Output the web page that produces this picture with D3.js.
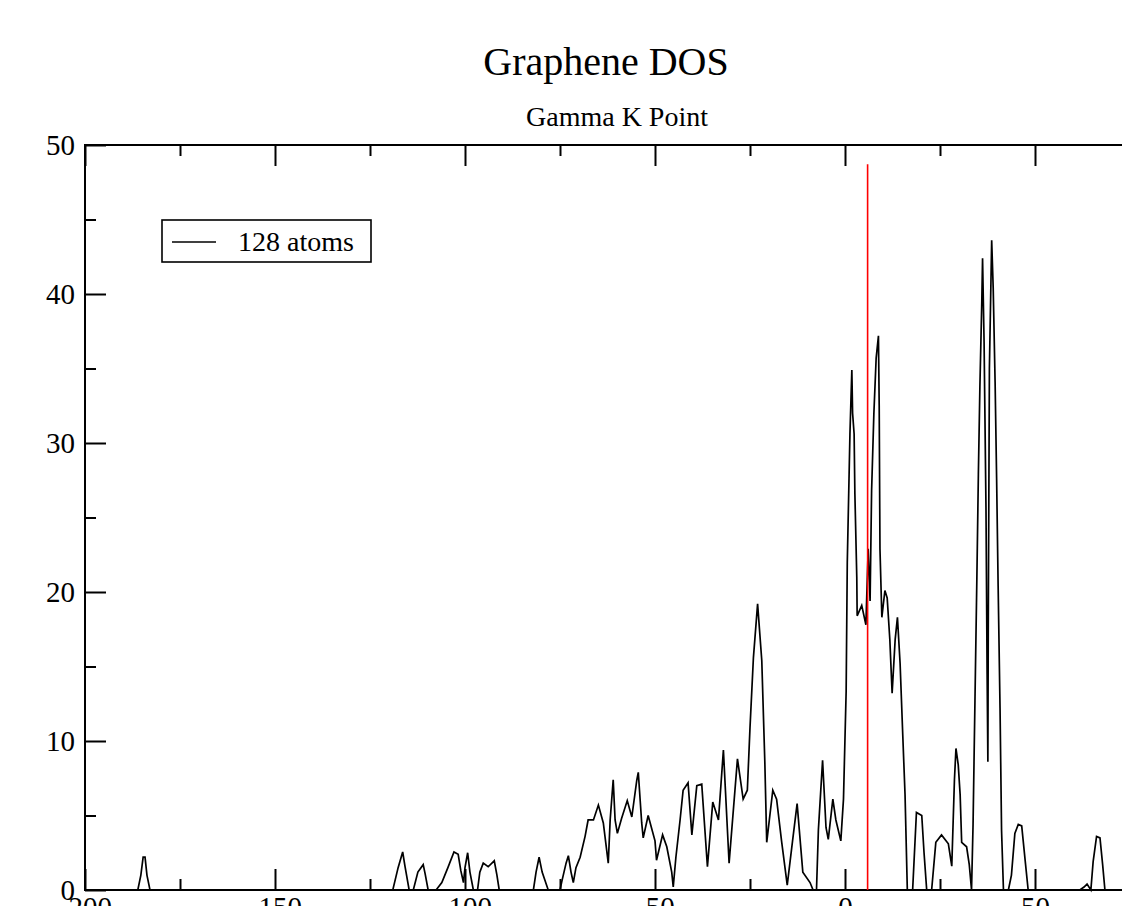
<!DOCTYPE html>
<html>
<head>
<meta charset="utf-8">
<script src="https://cdn.jsdelivr.net/npm/d3@7"></script>
<style>
  body { margin: 0; background: #fff; }
  svg { display: block; }
  text { font-family: "Liberation Serif", "Times New Roman", serif; fill: #000; }
</style>
</head>
<body>
<div id="chart"></div>
<script>
// chart text
var title = 'Graphene DOS';
var subtitle = 'Gamma K Point';
var seriesName = '128 atoms';

// tick values
var xMajorTicks = [-200, -150, -100, -50, 0, 50];
var xMinorTicks = [-175, -125, -75, -25, 25, 75];
var yMajorTicks = [0, 10, 20, 30, 40, 50];
var yMinorTicks = [5, 15, 25, 35, 45];

// fermi level marker
var fermiEnergy = 5.95;
var fermiTop = 48.7;

// DOS curve (energy, states)
var energy = [-200, -186.1, -185.3, -184.7, -184.2, -183.7, -182.9,
  -119.0, -117.6, -116.4, -115.8, -114.7, -113.6, -112.4, -111.0, -110.5, -109.7,
  -107.6, -106.1, -104.5, -102.9, -101.8, -101.1, -100.4, -100.0, -99.3, -98.7, -97.8,
  -96.7, -96.1, -95.2, -93.9, -92.3, -91.6, -91.0,
  -82.0, -81.3, -80.5, -79.7, -78.1,
  -75.0, -74.5, -73.4, -72.8, -72.1, -71.5, -70.8, -69.7, -68.4, -67.6, -66.2, -64.9,
  -63.6, -62.3, -61.8, -61.0, -60.5, -59.9, -58.8, -57.3, -56.1, -54.8, -54.4, -53.5,
  -53.1, -51.8, -50.0, -49.6, -48.0, -46.9, -45.6, -45.2, -44.5, -43.4, -42.6, -41.3,
  -40.3, -39.0, -37.7, -36.2, -34.8, -33.3, -32.0, -30.5, -28.3, -26.8, -25.7, -25.0,
  -24.1, -23.0, -21.9, -21.1, -20.6, -19.0, -18.0, -16.7, -15.2, -13.8, -12.6, -11.1,
  -9.2, -8.4, -7.5, -7.0, -5.9, -5.0, -4.4, -3.2, -2.4, -1.1, -0.4, 0.3, 0.6, 1.3,
  1.8, 2.0, 2.4, 2.6, 3.1, 3.2, 4.4, 5.5, 6.1, 6.6, 7.0, 7.6, 8.2, 8.8, 9.0, 9.2, 9.7,
  10.5, 11.1, 11.8, 12.4, 13.2, 13.8, 14.5, 15.2, 15.8, 16.4, 17.8, 18.8, 20.2, 20.8,
  21.5, 22.8, 23.9, 25.4, 27.2, 28.1, 28.8, 29.2, 29.8, 30.3, 30.7, 32.0, 32.7, 33.3,
  33.7, 34.2, 34.7, 35.1, 35.5, 36.0, 36.2, 36.6, 37.1, 37.4, 37.6, 37.7, 38.0, 38.6,
  39.0, 39.5, 39.9, 40.3, 40.8, 41.2, 41.7, 43.0, 43.8, 44.7, 45.6, 46.5, 47.4, 48.2,
  61.8, 62.9, 63.7, 64.7, 65.3, 66.2, 67.1, 67.8, 68.4, 73.7];

var dos = [0, 0, 1.0, 2.2, 2.2, 1.0, 0,
  0, 1.5, 2.55, 1.6, 0, 0, 1.2, 1.7, 1.1, 0,
  0, 0.5, 1.5, 2.55, 2.4, 1.3, 0.5, 1.5, 2.5, 1.2, 0,
  0, 1.2, 1.8, 1.56, 1.96, 1.0, 0,
  0, 1.2, 2.2, 1.2, 0,
  0, 0.6, 1.8, 2.3, 1.2, 0.5, 1.5, 2.2, 3.6, 4.7, 4.7, 5.7,
  4.5, 1.8, 4.7, 7.4, 4.7, 3.8, 4.8, 6.0, 4.9, 7.35, 7.9, 4.5,
  3.5, 5.0, 3.3, 2.0, 3.7, 2.9, 1.2, 0.2, 2.2, 4.7, 6.7, 7.2,
  3.7, 7.0, 7.1, 1.56, 5.9, 4.7, 9.4, 1.8, 8.8, 6.1, 6.7, 10.9,
  15.6, 19.2, 15.4, 8.6, 3.2, 6.7, 6.1, 3.3, 0.33, 3.3, 5.8, 1.2,
  0.5, 0, 0, 4.05, 8.7, 4.2, 3.4, 6.1, 4.7, 3.3, 6.1, 13.3, 22.0, 30.6,
  34.9, 32.0, 30.6, 26.6, 21.0, 18.4, 19.1, 17.8, 22.9, 19.4, 26.8, 32.0, 35.7, 37.2, 32.5, 22.9, 18.3,
  20.1, 19.6, 16.8, 13.2, 16.8, 18.3, 15.2, 10.4, 6.4, 0, 0, 5.2, 5.0, 2.5,
  0, 0, 3.2, 3.7, 3.1, 1.6, 7.4, 9.5, 8.4, 6.4, 3.2, 2.9, 1.7, 0,
  4.4, 12.7, 20.9, 27.9, 33.8, 39.5, 42.4, 36.8, 25.7, 14.5, 8.6, 17.5, 35.0, 43.6,
  40.4, 34.1, 27.6, 20.4, 12.2, 4.0, 0, 0, 1.0, 3.8, 4.4, 4.3, 2.0, 0,
  0, 0.2, 0.4, 0, 1.9, 3.6, 3.5, 1.7, 0, 0];

var svgWidth = 1122;
var svgHeight = 906;

// plot frame runs past the right edge of the picture
var margin = { top: 145, left: 85, bottom: 16 };
var plotRight = 1130;
var plotBottom = 890;

var svg = d3.select('#chart')
  .append('svg')
  .attr('width', svgWidth)
  .attr('height', svgHeight);

var xScale = d3.scaleLinear()
  .domain([-200, 75])
  .range([margin.left, plotRight]);

var yScale = d3.scaleLinear()
  .domain([0, 50])
  .range([plotBottom, margin.top]);

var plain = d => String(d);

// minor ticks first, all pointing inwards
svg.append('g')
  .attr('transform', `translate(0, ${plotBottom})`)
  .call(d3.axisBottom(xScale).tickValues(xMinorTicks).tickSize(-11).tickFormat(''));
svg.append('g')
  .attr('transform', `translate(0, ${margin.top})`)
  .call(d3.axisTop(xScale).tickValues(xMinorTicks).tickSize(-11).tickFormat(''));
svg.append('g')
  .attr('transform', `translate(${margin.left}, 0)`)
  .call(d3.axisLeft(yScale).tickValues(yMinorTicks).tickSize(-11).tickFormat(''));

// major ticks with labels
var xAxis = svg.append('g')
  .attr('transform', `translate(0, ${plotBottom})`)
  .call(d3.axisBottom(xScale).tickValues(xMajorTicks).tickSize(-21).tickPadding(6).tickFormat(plain));
svg.append('g')
  .attr('transform', `translate(0, ${margin.top})`)
  .call(d3.axisTop(xScale).tickValues(xMajorTicks).tickSize(-21).tickFormat(''));
var yAxis = svg.append('g')
  .attr('transform', `translate(${margin.left}, 0)`)
  .call(d3.axisLeft(yScale).tickValues(yMajorTicks).tickSize(-21).tickPadding(10).tickFormat(plain));

svg.selectAll('.domain').remove();
svg.selectAll('.tick line').attr('stroke', '#000').attr('stroke-width', 2);
svg.selectAll('.tick text')
  .style('font-family', '"Liberation Serif", serif')
  .attr('font-size', '29px')
  .attr('fill', '#000');

// frame
svg.append('rect')
  .attr('x', margin.left)
  .attr('y', margin.top)
  .attr('width', plotRight - margin.left)
  .attr('height', plotBottom - margin.top)
  .attr('fill', 'none')
  .attr('stroke', '#000')
  .attr('stroke-width', 2);

// dos curve
var points = energy.map((e, i) => [e, dos[i]]);
var line = d3.line()
  .x(d => xScale(d[0]))
  .y(d => yScale(d[1]));

svg.append('path')
  .datum(points)
  .attr('d', line)
  .attr('fill', 'none')
  .attr('stroke', '#000')
  .attr('stroke-width', 1.7)
  .attr('stroke-linejoin', 'miter');

// fermi level
svg.append('line')
  .attr('x1', xScale(fermiEnergy))
  .attr('x2', xScale(fermiEnergy))
  .attr('y1', yScale(0))
  .attr('y2', yScale(fermiTop))
  .attr('stroke', '#ff0000')
  .attr('stroke-width', 1.6);

// titles
svg.append('text')
  .attr('x', 606)
  .attr('y', 75)
  .attr('text-anchor', 'middle')
  .attr('font-size', '40px')
  .text(title);

svg.append('text')
  .attr('x', 617)
  .attr('y', 126)
  .attr('text-anchor', 'middle')
  .attr('font-size', '28px')
  .text(subtitle);

// legend
var legend = svg.append('g');
legend.append('rect')
  .attr('x', 162)
  .attr('y', 220)
  .attr('width', 209)
  .attr('height', 42)
  .attr('fill', '#fff')
  .attr('stroke', '#000')
  .attr('stroke-width', 1.6);
legend.append('line')
  .attr('x1', 172)
  .attr('x2', 216)
  .attr('y1', 242)
  .attr('y2', 242)
  .attr('stroke', '#000')
  .attr('stroke-width', 1.6);
legend.append('text')
  .attr('x', 238)
  .attr('y', 251)
  .attr('font-size', '28px')
  .text(seriesName);
</script>
</body>
</html>
